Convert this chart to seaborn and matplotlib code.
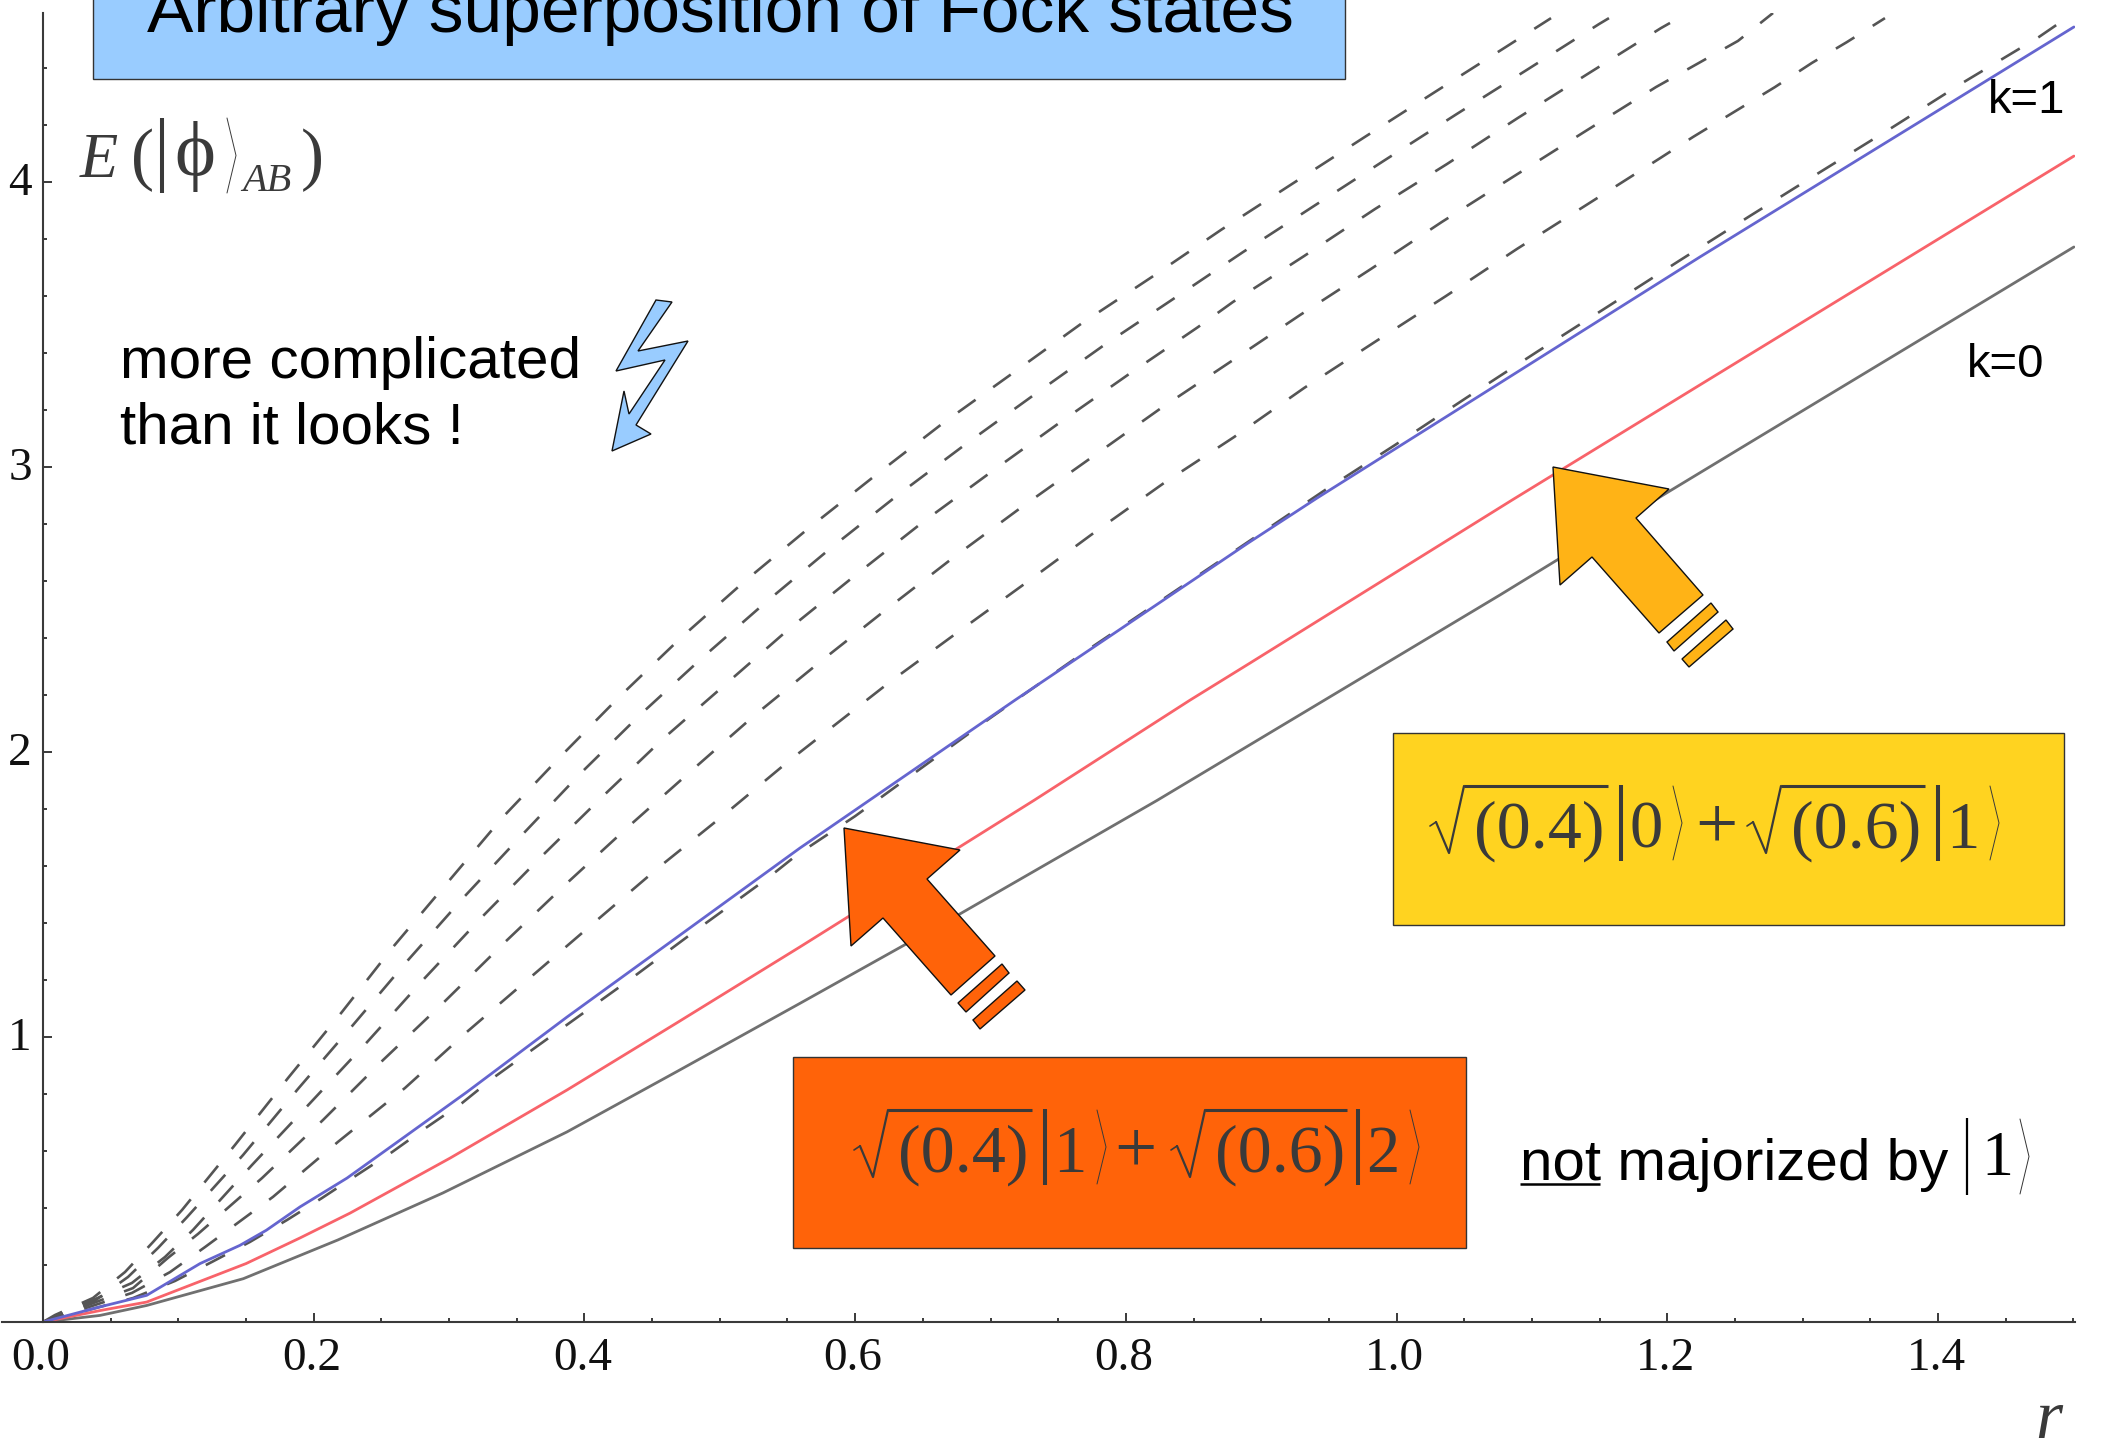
import matplotlib
matplotlib.use("Agg")
import matplotlib.pyplot as plt
import seaborn as sns
from matplotlib.patches import Polygon, Rectangle
from matplotlib.ticker import MultipleLocator, FixedLocator
from matplotlib.transforms import ScaledTranslation

# curves: r values and E values
r_k0 = [0, 0.042, 0.0766, 0.148, 0.2179, 0.2955, 0.3871, 0.4684, 0.5592, 0.676, 0.823, 1.0764, 1.2005, 1.2677, 1.5004]
e_k0 = [0, 0.023, 0.058, 0.152, 0.288, 0.453, 0.667, 0.879, 1.118, 1.428, 1.83, 2.551, 2.912, 3.105, 3.772]

r_red = [0, 0.042, 0.0766, 0.15, 0.1899, 0.2268, 0.3007, 0.3871, 0.4684, 0.5592, 0.732, 0.8474, 0.8917, 1.0853, 1.2241, 1.5004]
e_red = [0, 0.04, 0.07, 0.205, 0.295, 0.382, 0.575, 0.814, 1.05, 1.316, 1.83, 2.182, 2.312, 2.884, 3.288, 4.091]

r_k1 = [0, 0.042, 0.0766, 0.116, 0.1455, 0.165, 0.1899, 0.2246, 0.2637, 0.3132, 0.3871, 0.4684, 0.5592, 0.7181, 0.8902, 0.9412, 1.0764, 1.2241, 1.5004]
e_k1 = [0, 0.053, 0.0936, 0.205, 0.269, 0.322, 0.404, 0.505, 0.638, 0.807, 1.07, 1.35, 1.663, 2.182, 2.733, 2.891, 3.295, 3.737, 4.544]

r_d1 = [0, 0.0665, 0.0975, 0.1249, 0.1529, 0.1803, 0.2061, 0.232, 0.2578, 0.2837, 0.3095, 0.3324, 0.4351, 0.4846, 0.5356, 0.557, 0.6, 0.7, 0.7683, 0.9471, 0.9988, 1.0513, 1.1037, 1.1554, 1.2086, 1.2611, 1.3143, 1.3667, 1.4192, 1.4746, 1.5004]
e_d1 = [0, 0.084, 0.144, 0.211, 0.281, 0.358, 0.435, 0.516, 0.596, 0.684, 0.768, 0.856, 1.207, 1.382, 1.558, 1.639, 1.775, 2.12, 2.347, 2.919, 3.077, 3.242, 3.404, 3.561, 3.723, 3.881, 4.039, 4.193, 4.351, 4.509, 4.593]

r_d2 = [0, 0.0657, 0.0938, 0.1197, 0.1699, 0.2179, 0.2674, 0.3132, 0.3605, 0.4078, 0.4551, 0.5038, 0.5519, 0.6257, 0.676, 0.7269, 0.7772, 0.8282, 0.8799, 0.9316, 0.984, 1.0365, 1.0889, 1.1414, 1.1938, 1.219, 1.2795, 1.3069, 1.3327, 1.3608]
e_d2 = [0, 0.102, 0.175, 0.263, 0.439, 0.632, 0.821, 1.018, 1.211, 1.404, 1.596, 1.782, 1.972, 2.246, 2.421, 2.596, 2.772, 2.944, 3.105, 3.277, 3.439, 3.6, 3.765, 3.923, 4.081, 4.158, 4.333, 4.418, 4.491, 4.575]

r_d3 = [0, 0.0665, 0.0923, 0.1145, 0.1618, 0.2069, 0.2512, 0.2955, 0.3413, 0.3864, 0.4322, 0.4787, 0.526, 0.574, 0.6235, 0.673, 0.7232, 0.7742, 0.8252, 0.8769, 0.9286, 0.9811, 1.0335, 1.086, 1.1384, 1.1916, 1.2522, 1.2781]
e_d3 = [0, 0.119, 0.225, 0.309, 0.505, 0.709, 0.919, 1.119, 1.333, 1.537, 1.737, 1.933, 2.13, 2.316, 2.502, 2.684, 2.86, 3.032, 3.204, 3.368, 3.533, 3.695, 3.86, 4.018, 4.175, 4.333, 4.495, 4.593]

r_d4 = [0, 0.0657, 0.0901, 0.1108, 0.1544, 0.1973, 0.2394, 0.2815, 0.3243, 0.3686, 0.413, 0.458, 0.5053, 0.5519, 0.6014, 0.6501, 0.7003, 0.7506, 0.8023, 0.8533, 0.8791, 0.9316, 0.984, 1.0372, 1.0897, 1.1421, 1.1953, 1.202]
e_d4 = [0, 0.137, 0.228, 0.323, 0.551, 0.768, 0.982, 1.204, 1.421, 1.635, 1.842, 2.046, 2.242, 2.435, 2.625, 2.807, 2.982, 3.154, 3.326, 3.491, 3.579, 3.74, 3.905, 4.063, 4.225, 4.382, 4.54, 4.558]

r_d5 = [0, 0.0369, 0.0628, 0.085, 0.1064, 0.1478, 0.1884, 0.229, 0.2697, 0.311, 0.3539, 0.3967, 0.441, 0.4876, 0.5341, 0.5829, 0.6316, 0.6819, 0.7321, 0.7831, 0.8348, 0.8865, 0.939, 0.9914, 1.0446, 1.0971, 1.1495, 1.1569]
e_d5 = [0, 0.0702, 0.158, 0.26, 0.368, 0.586, 0.818, 1.042, 1.27, 1.491, 1.709, 1.923, 2.13, 2.333, 2.526, 2.719, 2.902, 3.081, 3.253, 3.425, 3.589, 3.754, 3.916, 4.077, 4.239, 4.396, 4.554, 4.575]

r_d6 = [0, 0.0089, 0.0369, 0.0606, 0.0813, 0.1027, 0.1418, 0.181, 0.2209, 0.2586, 0.2992, 0.3398, 0.3827, 0.4263, 0.472, 0.5186, 0.5666, 0.6161, 0.6649, 0.7166, 0.7668, 0.8193, 0.8703, 0.9227, 0.9752, 1.0284, 1.0808, 1.1141]
e_d6 = [0, 0.0246, 0.0842, 0.1754, 0.2807, 0.393, 0.621, 0.856, 1.088, 1.316, 1.544, 1.772, 1.986, 2.196, 2.404, 2.6, 2.789, 2.975, 3.154, 3.33, 3.502, 3.667, 3.832, 3.993, 4.154, 4.316, 4.474, 4.575]

x_tick_labels = ["0.0", "0.2", "0.4", "0.6", "0.8", "1.0", "1.2", "1.4"]
y_tick_labels = ["1", "2", "3", "4"]

W, H = 2112, 1444
SERIF = "Liberation Serif"
SANS = "Liberation Sans"
INK = "#3a3a3a"

sns.set_style("white")
fig = plt.figure(figsize=(W / 100, H / 100), dpi=100)

ax = fig.add_axes([2 / W, (H - 1322) / H, 2073 / W, 1309 / H])
ax.patch.set_alpha(0)

# dashed family first, the three solid curves go over them
for rr, ee in [(r_d1, e_d1), (r_d2, e_d2), (r_d3, e_d3), (r_d4, e_d4), (r_d5, e_d5), (r_d6, e_d6)]:
    sns.lineplot(x=rr, y=ee, ax=ax, color="#555555", linewidth=1.9, estimator=None, sort=False,
                 linestyle=(0, (8.2, 8.2)), dash_capstyle="butt")
sns.lineplot(x=r_k0, y=e_k0, ax=ax, color="#707070", linewidth=2.0, estimator=None, sort=False)
sns.lineplot(x=r_red, y=e_red, ax=ax, color="#f8636a", linewidth=2.0, estimator=None, sort=False)
sns.lineplot(x=r_k1, y=e_k1, ax=ax, color="#6565cf", linewidth=2.0, estimator=None, sort=False)

ax.set_xlim(-0.0303, 1.5012)
ax.set_ylim(0, 4.593)
ax.spines["top"].set_visible(False)
ax.spines["right"].set_visible(False)
ax.spines["left"].set_position(("data", 0))
for s in ["left", "bottom"]:
    ax.spines[s].set_color(INK)
    ax.spines[s].set_linewidth(1.5)

ax.xaxis.set_major_locator(FixedLocator([0.2 * i for i in range(len(x_tick_labels))]))
ax.set_xticklabels(x_tick_labels)
ax.yaxis.set_major_locator(FixedLocator([1, 2, 3, 4]))
ax.set_yticklabels(y_tick_labels)
ax.xaxis.set_minor_locator(MultipleLocator(0.05))
ax.yaxis.set_minor_locator(MultipleLocator(0.2))
ax.tick_params(axis="both", which="major", direction="in", length=6.5, width=1.4, color=INK,
               bottom=True, left=True, labelsize=34, labelfontfamily=SERIF, labelcolor="#111111")
ax.tick_params(axis="both", which="minor", direction="in", length=3.2, width=1.4, color=INK,
               bottom=True, left=True)
ax.tick_params(axis="x", which="major", pad=11)
ax.tick_params(axis="y", which="major", pad=8)
for lab in ax.get_yticklabels():
    lab.set_transform(lab.get_transform() + ScaledTranslation(0, 3 / 100, fig.dpi_scale_trans))
for lab in ax.get_xticklabels():
    lab.set_transform(lab.get_transform() + ScaledTranslation(-2 / 100, 0, fig.dpi_scale_trans))

# overlay in picture pixels for the slide annotations
ov = fig.add_axes([0, 0, 1, 1])
ov.set_xlim(0, W)
ov.set_ylim(H, 0)
ov.axis("off")
ov.patch.set_alpha(0)


def box(x0, y0, x1, y1, color):
    ov.add_patch(Rectangle((x0, y0), x1 - x0, y1 - y0, facecolor=color, edgecolor="#333333", linewidth=1))


def shape(pts, color):
    ov.add_patch(Polygon(pts, closed=True, facecolor=color, edgecolor="#111111", linewidth=1))


def sans(x, y, s, size, ha="left"):
    ov.text(x, y, s, family=SANS, fontsize=size, color="black", ha=ha, va="baseline")


def serif(x, y, s, size, color=INK, style="normal", ha="center"):
    ov.text(x, y, s, family=SERIF, fontsize=size, color=color, style=style, ha=ha, va="baseline")


def ket_bar(x, top, bottom, color=INK, lw=2.9):
    ov.plot([x, x], [top, bottom], color=color, lw=lw, solid_capstyle="butt")


def ket_angle(x, top, bottom, color=INK):
    ov.plot([x, x + 9, x], [top, (top + bottom) / 2, bottom], color=color, lw=0.7)


def sqrt_term(x0, base, num, digit, pull=0):
    # radical, bracketed number, then the ket |digit>
    top = base - 62
    ov.plot([x0, x0 + 6], [base - 22, base - 26], color=INK, lw=1.2)
    ov.plot([x0 + 6, x0 + 19, x0 + 34], [base - 26, base + 5, top], color=INK, lw=1.6)
    ov.plot([x0 + 34, x0 + 178 - pull / 2], [top, top], color=INK, lw=2.2, solid_capstyle="butt")
    serif(x0 + 109, base, "(" + num + ")", 49)
    ket_bar(x0 + 191 - pull, top - 1, base + 13)
    serif(x0 + 216 - pull, base, digit, 48)
    ket_angle(x0 + 243 - pull, top, base + 12)


# title strip, runs off the top of the picture
box(93, -6, 1345, 79, "#99ccff")
sans(147, 32, "Arbitrary superposition of Fock states", 50)

# y axis name
serif(80, 177, "E", 45, style="italic", ha="left")
serif(143, 177, "(", 50)
ket_bar(162, 118, 193)
serif(195, 175, "\u03d5", 56)
ket_angle(227, 118, 193)
serif(242, 191, "AB", 29, style="italic", ha="left")
serif(312, 177, ")", 50)

# x axis name
serif(2049, 1438, "r", 50, style="italic")

sans(120, 378, "more complicated", 42)
sans(120, 443, "than it looks !", 42)

shape([(656, 300), (672, 302), (638, 351), (688, 341), (636, 425), (651, 434), (612, 451),
       (624, 391), (629, 414), (665, 360), (616, 371)], "#99ccff")

sans(1988, 113, "k=1", 34)
sans(1967, 377, "k=0", 34)

# orange arrow and its two stripes
shape([(844, 828), (960, 850), (927, 879), (995, 956), (951, 995), (883, 918), (851, 946)], "#ff6309")
shape([(1002, 964), (1009, 973), (966, 1012), (958, 1003)], "#ff6309")
shape([(1017, 981), (1025, 990), (980, 1029), (973, 1020)], "#ff6309")

# yellow arrow and its two stripes
shape([(1553, 467), (1669, 489), (1636, 518), (1703, 595), (1659, 633), (1592, 557), (1560, 585)], "#ffb316")
shape([(1711, 603), (1718, 612), (1674, 651), (1667, 642)], "#ffb316")
shape([(1726, 620), (1733, 629), (1689, 667), (1682, 659)], "#ffb316")

box(1393, 733, 2064, 925, "#ffd320")
sqrt_term(1430, 848, "0.4", "0")
serif(1716, 848, "+", 54)
sqrt_term(1747, 848, "0.6", "1")

box(793, 1057, 1466, 1248, "#ff6309")
sqrt_term(854, 1172, "0.4", "1")
serif(1135, 1172, "+", 54)
sqrt_term(1171, 1172, "0.6", "2", pull=4)

sans(1520, 1180, "not majorized by", 42)
ov.plot([1520, 1600], [1184, 1184], color="black", lw=1.8, solid_capstyle="butt")
ket_bar(1967, 1118, 1195, color="black", lw=1.6)
serif(1997, 1175, "1", 46, color="black")
ket_angle(2020, 1119, 1194, color="#333333")

fig.savefig("out.png", dpi=100)
